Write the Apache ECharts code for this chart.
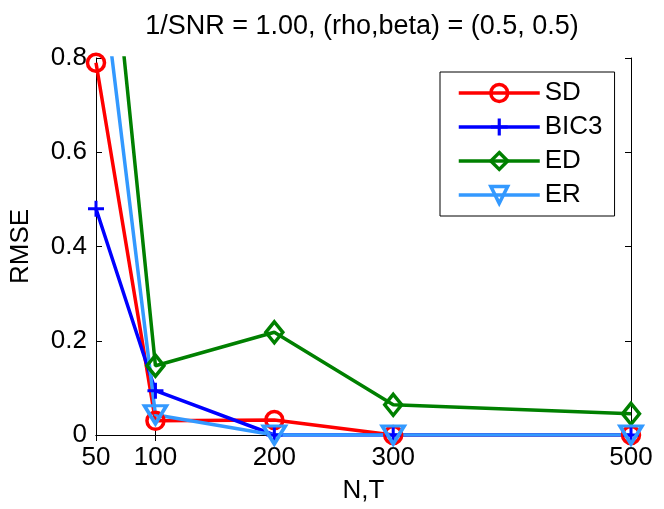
<!DOCTYPE html>
<html>
<head>
<meta charset="UTF-8">
<title>RMSE</title>
<script src="https://cdn.jsdelivr.net/npm/echarts@6/dist/echarts.min.js"></script>
<style>
  html, body { margin: 0; padding: 0; background: #fff; }
  #main { width: 664px; height: 509px; }
</style>
</head>
<body>
<div id="main"></div>
<script type="text/javascript">
// data
var nt = [50, 100, 200, 300, 500];
var xTicks = [50, 100, 200, 300, 500];
var sd = [0.79, 0.030, 0.032, 0, 0];
var bic3 = [0.48, 0.094, 0, 0, 0];
var ed = [1.39, 0.147, 0.218, 0.064, 0.045];
var er = [1.08, 0.043, 0, 0, 0];

var FONT = 'Liberation Sans, Arial, Helvetica, sans-serif';
var FS = 26;
var LW = 3.5;
var plus = 'path://M6.5,0H9.5V6.5H16V9.5H9.5V16H6.5V9.5H0V6.5H6.5Z';

function pairs(ys) {
  var out = [];
  for (var i = 0; i < nt.length; i++) out.push([nt[i], ys[i]]);
  return out;
}

function lineSeries(name, ys, color, symbol, size, rotate, filled) {
  return {
    name: name,
    type: 'line',
    data: pairs(ys),
    symbol: symbol,
    symbolSize: size,
    symbolRotate: rotate || 0,
    showAllSymbol: true,
    clip: true,
    lineStyle: { color: color, width: LW },
    itemStyle: filled
      ? { color: color, borderWidth: 0 }
      : { color: 'rgba(0,0,0,0)', borderColor: color, borderWidth: LW },
    emphasis: { disabled: true },
    z: 3
  };
}

var chart = echarts.init(document.getElementById('main'));

var baseX = {
  type: 'value',
  min: 50,
  max: 500,
  axisLine: { show: true, lineStyle: { color: '#000', width: 1 } },
  axisTick: { show: true, inside: true, length: 6, customValues: xTicks, lineStyle: { color: '#000' } },
  splitLine: { show: false }
};
var baseY = {
  type: 'value',
  min: 0,
  max: 0.8,
  interval: 0.2,
  axisLine: { show: true, lineStyle: { color: '#000', width: 1 } },
  axisTick: { show: true, inside: true, length: 6, lineStyle: { color: '#000' } },
  splitLine: { show: false }
};

chart.setOption({
  animation: false,
  backgroundColor: '#fff',
  title: {
    text: '1/SNR = 1.00, (rho,beta) = (0.5, 0.5)',
    left: 357,
    top: 8,
    textAlign: 'center',
    textStyle: { fontFamily: FONT, fontSize: 27, fontWeight: 'normal', color: '#000', lineHeight: 27 }
  },
  grid: { left: 91, right: 33, top: 58, bottom: 74, containLabel: false },
  legend: {
    orient: 'vertical',
    left: 440,
    top: 72,
    padding: [8, 12, 8, 17],
    itemWidth: 81,
    itemHeight: 21,
    itemGap: 8,
    lineStyle: { width: LW },
    itemStyle: { borderWidth: LW },
    textStyle: { fontFamily: FONT, fontSize: FS, color: '#000', lineHeight: FS },
    backgroundColor: '#fff',
    borderColor: '#000',
    borderWidth: 1,
    borderRadius: 0,
    selectedMode: false,
    data: ['SD', 'BIC3', 'ED', 'ER']
  },
  xAxis: [
    Object.assign({}, baseX, {
      position: 'bottom',
      name: 'N,T',
      nameLocation: 'middle',
      nameGap: 43,
      nameTextStyle: { fontFamily: FONT, fontSize: FS, color: '#000', lineHeight: FS },
      axisLabel: {
        customValues: xTicks,
        margin: 10,
        fontFamily: FONT, fontSize: FS, color: '#000', lineHeight: FS
      }
    }),
    Object.assign({}, baseX, { position: 'top', axisLabel: { show: false } })
  ],
  yAxis: [
    Object.assign({}, baseY, {
      position: 'left',
      name: 'RMSE',
      nameLocation: 'middle',
      nameGap: 62,
      nameTextStyle: { fontFamily: FONT, fontSize: FS, color: '#000', lineHeight: FS },
      axisLabel: {
        margin: 9,
        fontFamily: FONT, fontSize: FS, color: '#000', lineHeight: FS,
        formatter: function (v) { return v === 0 ? '0' : v.toFixed(1); }
      }
    }),
    Object.assign({}, baseY, { position: 'right', axisLabel: { show: false } })
  ],
  series: [
    lineSeries('SD', sd, '#ff0000', 'circle', 17, 0, false),
    lineSeries('BIC3', bic3, '#0000ff', plus, 16, 0, true),
    lineSeries('ED', ed, '#008000', 'diamond', [17, 21], 0, false),
    lineSeries('ER', er, '#3399ff', 'triangle', [22, 18], 180, false)
  ]
});
</script>
</body>
</html>
